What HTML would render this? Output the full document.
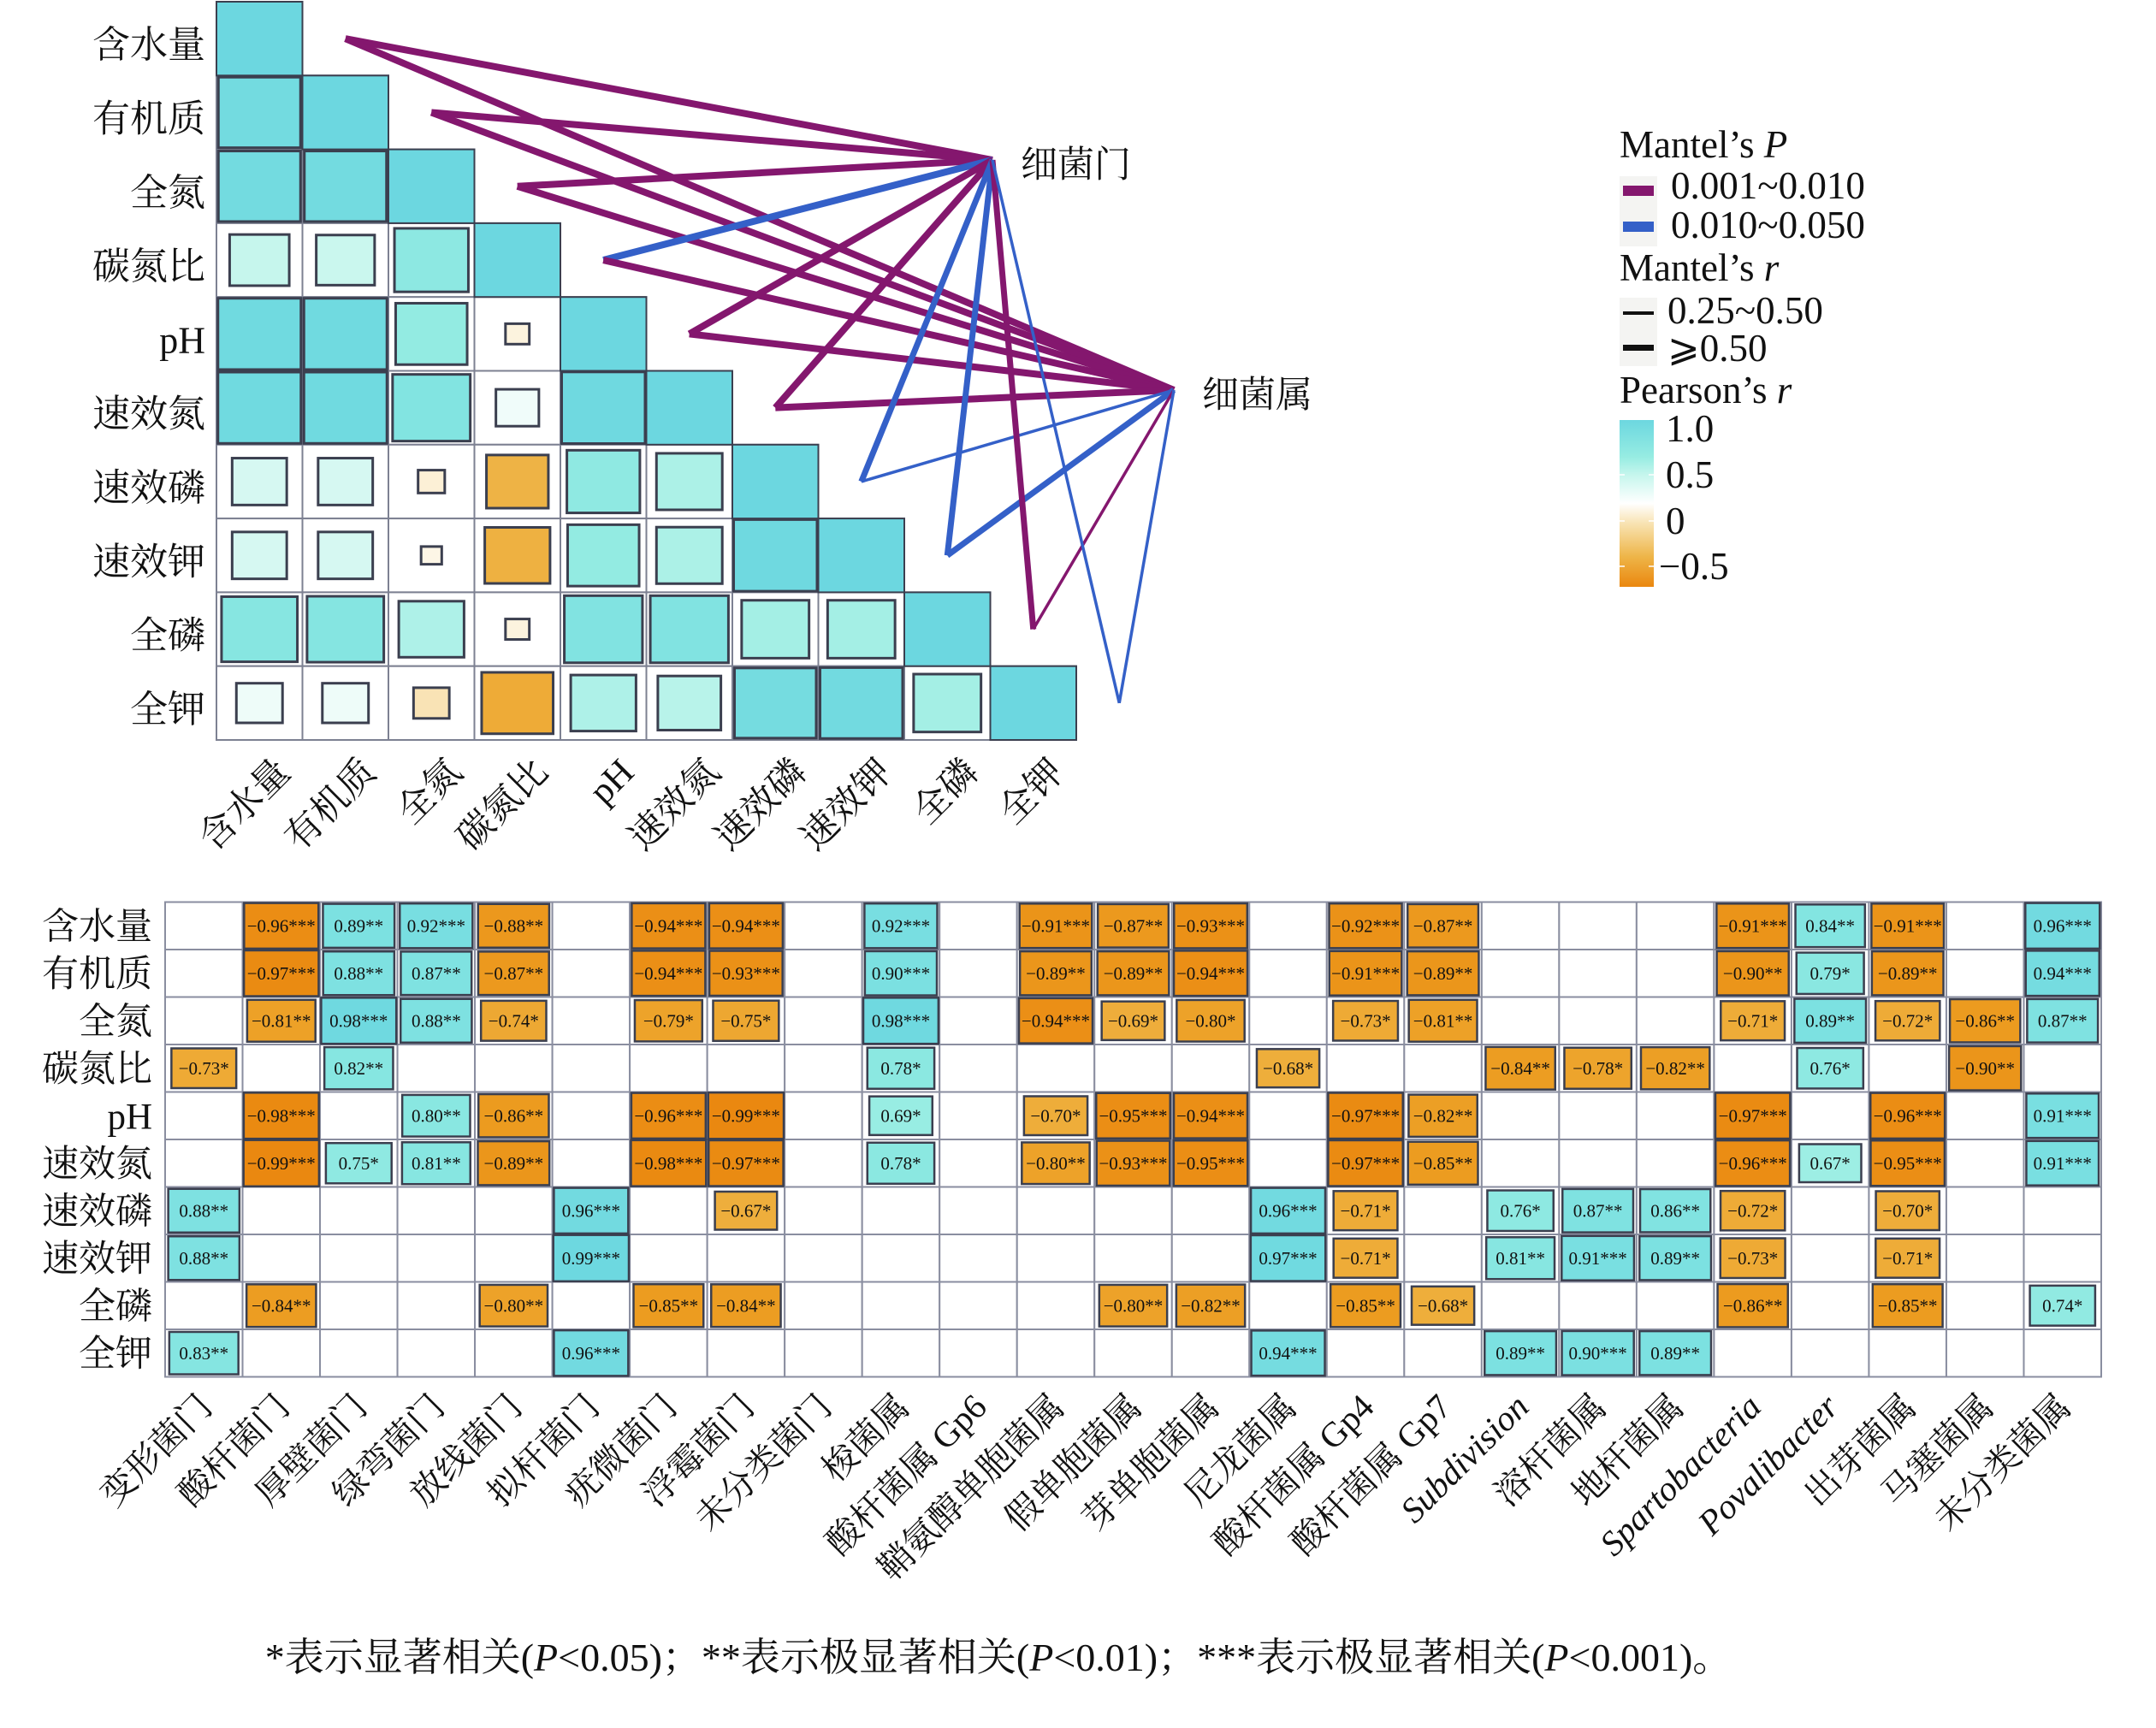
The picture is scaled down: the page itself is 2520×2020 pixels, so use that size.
<!DOCTYPE html>
<html><head><meta charset="utf-8">
<style>
html,body{margin:0;padding:0;background:#fff;}
svg{display:block;}
text{font-family:"Liberation Serif","Noto Serif CJK SC",serif;fill:#111;}
</style></head>
<body>
<svg id="s" xmlns="http://www.w3.org/2000/svg" width="2520" height="2020" viewBox="0 0 2520 2020">
<defs>
<linearGradient id="cb" x1="0" y1="0" x2="0" y2="1">
<stop offset="0" stop-color="#6cd7e0"/>
<stop offset="0.22" stop-color="#96ece2"/>
<stop offset="0.33" stop-color="#c6f6ed"/>
<stop offset="0.5" stop-color="#ffffff"/>
<stop offset="0.62" stop-color="#f8e3b2"/>
<stop offset="0.82" stop-color="#eeb548"/>
<stop offset="1" stop-color="#ea870f"/>
</linearGradient>
</defs>
<rect width="2520" height="2020" fill="#fff"/>
<g id="g"></g>
<g transform="translate(-19,0)">
<text x="1912" y="184" font-size="45">Mantel’s <tspan font-style="italic">P</tspan></text>
<rect x="1912" y="206" width="44" height="82" fill="#f4f4f2"/>
<rect x="1916" y="217" width="36" height="12" fill="#84176e"/>
<rect x="1916" y="259" width="36" height="12" fill="#3460c8"/>
<text x="1972" y="232" font-size="45">0.001~0.010</text>
<text x="1972" y="278" font-size="45">0.010~0.050</text>
<text x="1912" y="328" font-size="45">Mantel’s <tspan font-style="italic">r</tspan></text>
<rect x="1912" y="348" width="44" height="80" fill="#f4f4f2"/>
<rect x="1916" y="364" width="36" height="4" fill="#111"/>
<rect x="1916" y="403" width="36" height="7" fill="#111"/>
<text x="1968" y="378" font-size="45">0.25~0.50</text>
<text x="1968" y="422" font-size="45">⩾0.50</text>
<text x="1912" y="471" font-size="45">Pearson’s <tspan font-style="italic">r</tspan></text>
<rect x="1912" y="491" width="40" height="195" fill="url(#cb)"/>
<g stroke="#fff" stroke-width="1.5">
<line x1="1912" y1="555" x2="1918" y2="555"/><line x1="1946" y1="555" x2="1952" y2="555"/>
<line x1="1912" y1="609" x2="1918" y2="609"/><line x1="1946" y1="609" x2="1952" y2="609"/>
<line x1="1912" y1="662" x2="1918" y2="662"/><line x1="1946" y1="662" x2="1952" y2="662"/>
</g>
<text x="1966" y="516" font-size="45">1.0</text>
<text x="1966" y="570" font-size="45">0.5</text>
<text x="1966" y="624" font-size="45">0</text>
<text x="1958" y="677" font-size="45">−0.5</text>
</g>
<text x="1167" y="1953" font-size="46" text-anchor="middle">*表示显著相关(<tspan font-style="italic">P</tspan>&lt;0.05)；**表示极显著相关(<tspan font-style="italic">P</tspan>&lt;0.01)；***表示极显著相关(<tspan font-style="italic">P</tspan>&lt;0.001)。</text>
</svg>
<script>
(function(){
var NS="http://www.w3.org/2000/svg",g=document.getElementById("g");
function el(t,a,txt){var e=document.createElementNS(NS,t);for(var k in a)e.setAttribute(k,a[k]);if(txt!=null)e.textContent=txt;g.appendChild(e);return e;}
function hex(h){return [parseInt(h.substr(1,2),16),parseInt(h.substr(3,2),16),parseInt(h.substr(5,2),16)];}
function lerp(stops,v){for(var i=0;i<stops.length-1;i++){var a=stops[i],b=stops[i+1];if(v>=a[0]&&v<=b[0]){var t=(v-a[0])/(b[0]-a[0]),ca=hex(a[1]),cb=hex(b[1]);return "rgb("+[0,1,2].map(function(j){return Math.round(ca[j]+(cb[j]-ca[j])*t)}).join(",")+")";}}return stops[stops.length-1][1];}
var pos=[[0,"#ffffff"],[0.3,"#eefcf9"],[0.5,"#c6f6ed"],[0.7,"#96ece2"],[0.85,"#82e4e1"],[1,"#6cd7e0"]];
var neg=[[0,"#ffffff"],[0.2,"#f8e0ad"],[0.5,"#eeb548"],[0.7,"#eead3a"],[0.85,"#ec9c20"],[1,"#ea870f"]];
function col(r){return r>=0?lerp(pos,Math.min(r,1)):lerp(neg,Math.min(-r,1));}
var rowsL=["含水量","有机质","全氮","碳氮比","pH","速效氮","速效磷","速效钾","全磷","全钾"];
var X0=253,CW=100.5,Y0=2,RH=86.3;
var T=[[1],[0.95,1],[0.95,0.95,1],[0.5,0.48,0.77,1],[0.97,0.97,0.72,-0.08,1],[0.97,0.97,0.85,0.26,0.98,1],
[0.42,0.42,-0.1,-0.54,0.75,0.61,1],[0.42,0.42,-0.06,-0.6,0.72,0.61,0.98,1],[0.81,0.83,0.6,-0.08,0.86,0.86,0.64,0.64,1],
[0.3,0.3,-0.18,-0.72,0.6,0.56,0.94,0.96,0.64,1]];
for(var i=0;i<10;i++){for(var j=0;j<=i;j++){
 el("rect",{x:X0+CW*j,y:Y0+RH*i,width:CW,height:RH,fill:"#fff",stroke:"#7d8192","stroke-width":2});}}
for(var i=0;i<10;i++){for(var j=0;j<=i;j++){
 var r=T[i][j],f=Math.sqrt(Math.abs(r)),w=CW*f*(r>=0.999?1:0.98),h=RH*f*(r>=0.999?1:0.98);
 el("rect",{x:X0+CW*(j+0.5)-w/2,y:Y0+RH*(i+0.5)-h/2,width:w,height:h,fill:col(r),stroke:"#3b3f4f","stroke-width":r>=0.999?2:3});}}
for(var i=0;i<10;i++){
 el("text",{x:240,y:Y0+RH*(i+0.5)+22,"font-size":44,"text-anchor":"end"},rowsL[i]);
 var cx=X0+CW*(i+0.5)+38;
 el("text",{transform:"translate("+cx+",905) rotate(-45)","font-size":43,"text-anchor":"end"},rowsL[i]);}
var N1=[1160,187],N2=[1372,456],P="#84176e",B="#3460c8";
var L=[[P,8,P,8],[P,8,P,8],[P,8,P,8],[B,8,P,8],[P,8,P,8],[P,8,P,8],[B,7,B,3.5],[B,7,B,7],[P,7,P,3.5],[B,3.5,B,3.5]];
for(var i=0;i<10;i++){var ex=X0+CW*(i+1.5),ey=Y0+RH*(i+0.5);
 el("line",{x1:ex,y1:ey,x2:N1[0],y2:N1[1],stroke:L[i][0],"stroke-width":L[i][1]});
 el("line",{x1:ex,y1:ey,x2:N2[0],y2:N2[1],stroke:L[i][2],"stroke-width":L[i][3]});}
el("text",{x:1193,y:207,"font-size":43},"细菌门");
el("text",{x:1405,y:476,"font-size":43},"细菌属");
var BX=193,BW=90.52,BY=1054.5,BH=55.5;
var cols=["变形菌门","酸杆菌门","厚壁菌门","绿弯菌门","放线菌门","拟杆菌门","疣微菌门","浮霉菌门","未分类菌门","梭菌属","酸杆菌属 Gp6","鞘氨醇单胞菌属","假单胞菌属","芽单胞菌属","尼龙菌属","酸杆菌属 Gp4","酸杆菌属 Gp7","Subdivision","溶杆菌属","地杆菌属","Spartobacteria","Povalibacter","出芽菌属","马塞菌属","未分类菌属"];
var D=["1:-0.96***,2:0.89**,3:0.92***,4:-0.88**,6:-0.94***,7:-0.94***,9:0.92***,11:-0.91***,12:-0.87**,13:-0.93***,15:-0.92***,16:-0.87**,20:-0.91***,21:0.84**,22:-0.91***,24:0.96***",
"1:-0.97***,2:0.88**,3:0.87**,4:-0.87**,6:-0.94***,7:-0.93***,9:0.90***,11:-0.89**,12:-0.89**,13:-0.94***,15:-0.91***,16:-0.89**,20:-0.90**,21:0.79*,22:-0.89**,24:0.94***",
"1:-0.81**,2:0.98***,3:0.88**,4:-0.74*,6:-0.79*,7:-0.75*,9:0.98***,11:-0.94***,12:-0.69*,13:-0.80*,15:-0.73*,16:-0.81**,20:-0.71*,21:0.89**,22:-0.72*,23:-0.86**,24:0.87**",
"0:-0.73*,2:0.82**,9:0.78*,14:-0.68*,17:-0.84**,18:-0.78*,19:-0.82**,21:0.76*,23:-0.90**",
"1:-0.98***,3:0.80**,4:-0.86**,6:-0.96***,7:-0.99***,9:0.69*,11:-0.70*,12:-0.95***,13:-0.94***,15:-0.97***,16:-0.82**,20:-0.97***,22:-0.96***,24:0.91***",
"1:-0.99***,2:0.75*,3:0.81**,4:-0.89**,6:-0.98***,7:-0.97***,9:0.78*,11:-0.80**,12:-0.93***,13:-0.95***,15:-0.97***,16:-0.85**,20:-0.96***,21:0.67*,22:-0.95***,24:0.91***",
"0:0.88**,5:0.96***,7:-0.67*,14:0.96***,15:-0.71*,17:0.76*,18:0.87**,19:0.86**,20:-0.72*,22:-0.70*",
"0:0.88**,5:0.99***,14:0.97***,15:-0.71*,17:0.81**,18:0.91***,19:0.89**,20:-0.73*,22:-0.71*",
"1:-0.84**,4:-0.80**,6:-0.85**,7:-0.84**,12:-0.80**,13:-0.82**,15:-0.85**,16:-0.68*,20:-0.86**,22:-0.85**,24:0.74*",
"0:0.83**,5:0.96***,14:0.94***,17:0.89**,18:0.90***,19:0.89**"];
for(var i=0;i<10;i++)for(var j=0;j<25;j++)
 el("rect",{x:BX+BW*j,y:BY+BH*i,width:BW,height:BH,fill:"#fff",stroke:"#8a8ea0","stroke-width":2});
for(var i=0;i<10;i++){D[i].split(",").forEach(function(s){
 var p=s.split(":"),j=+p[0],txt=p[1],r=parseFloat(txt),f=Math.sqrt(Math.abs(r))*0.98,w=BW*f,h=BH*f;
 var cx=BX+BW*(j+0.5),cy=BY+BH*(i+0.5);
 el("rect",{x:cx-w/2,y:cy-h/2,width:w,height:h,fill:col(r),stroke:"#3b3f4f","stroke-width":2.5});
 el("text",{x:cx,y:cy+7,"font-size":21,"text-anchor":"middle"},txt.replace("-","−"));
});}
for(var i=0;i<10;i++)el("text",{x:178,y:BY+BH*(i+0.5)+15,"font-size":43,"text-anchor":"end"},rowsL[i]);
for(var j=0;j<25;j++){var cx=BX+BW*(j+0.5)+12;
 var it=(j==17||j==20||j==21);
 var a={transform:"translate("+cx+",1647) rotate(-45)","font-size":41,"text-anchor":"end"};if(it)a["font-style"]="italic";
 el("text",a,cols[j]);}
})();
</script>
</body></html>
